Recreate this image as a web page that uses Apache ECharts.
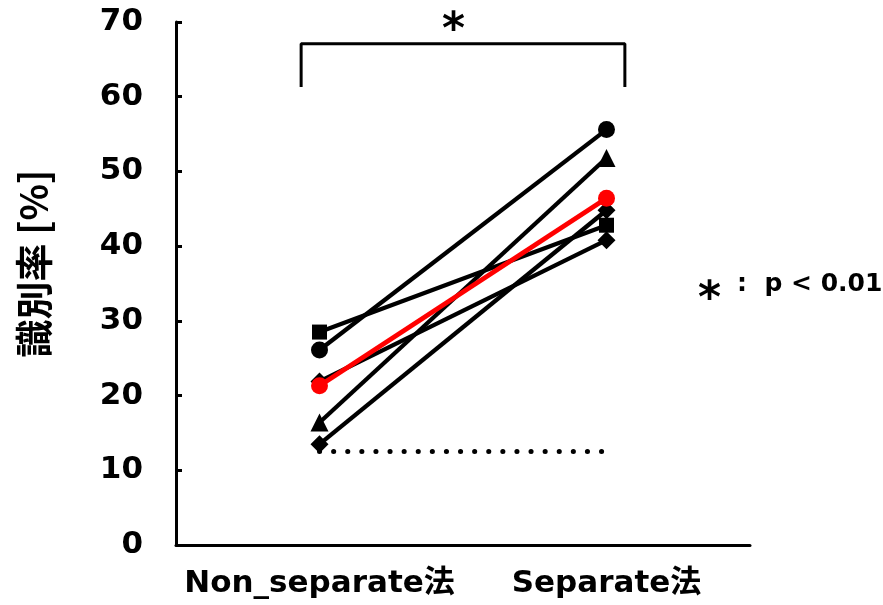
<!DOCTYPE html>
<html><head><meta charset="utf-8">
<script src="https://cdn.jsdelivr.net/npm/echarts@6/dist/echarts.min.js"></script>
<style>html,body{margin:0;padding:0;background:#fff}#c{width:883px;height:605px}</style>
</head><body><div id="c"></div>
<script>
const categories = ['Non_separate法', 'Separate法'];
const yTicks = [0, 10, 20, 30, 40, 50, 60, 70];
const circleVals = [26.1, 55.6];
const squareVals = [28.5, 42.8];
const triangleVals = [16.4, 51.8];
const diamondAVals = [21.9, 40.8];
const diamondBVals = [13.5, 44.8];
const meanVals = [21.3, 46.4];
const chanceVals = [12.5, 12.5];
const bracketX = [0.436, 1.564];
const bracketY = [61.3, 67.1];

const FONT = '"DejaVu Sans", "Noto Sans CJK JP", sans-serif';
const chart = echarts.init(document.getElementById('c'));

function subj(vals, symbol, size) {
  return {
    type: 'line', data: vals, symbol: symbol, symbolSize: size,
    lineStyle: { color: '#000', width: 4.3 },
    itemStyle: { color: '#000' }, z: 3, animation: false
  };
}

chart.setOption({
  animation: false,
  grid: { left: 176, right: 133, top: 22, bottom: 60, containLabel: false, outerBoundsMode: 'none' },
  xAxis: [{
    type: 'category', data: categories, boundaryGap: true,
    axisLine: { lineStyle: { color: '#000', width: 3 } },
    axisTick: { show: false },
    axisLabel: { color: '#000', fontSize: 31, fontWeight: 'bold', fontFamily: FONT, margin: 23, interval: 0 }
  }, {
    type: 'value', min: 0, max: 2, show: false
  }],
  yAxis: {
    type: 'value', min: yTicks[0], max: yTicks[yTicks.length - 1], interval: 10,
    name: '識別率 [%]', nameLocation: 'middle', nameRotate: 90, nameGap: 123,
    nameTextStyle: { color: '#000', fontSize: 38, fontWeight: 'bold', fontFamily: '"Noto Sans CJK JP", sans-serif', padding: [0, 0, 0, 40] },
    axisLine: { show: true, lineStyle: { color: '#000', width: 3 } },
    axisTick: { show: true, inside: true, length: 6, lineStyle: { color: '#000', width: 3 } },
    splitLine: { show: false },
    axisLabel: { color: '#000', fontSize: 31, fontWeight: 'bold', fontFamily: FONT, margin: 33 }
  },
  series: [
    {
      type: 'line', data: chanceVals, symbol: 'none',
      lineStyle: { color: '#000', width: 5, type: [0.1, 14], cap: 'round' }, z: 2
    },
    subj(squareVals, 'rect', 15),
    subj(circleVals, 'circle', 17),
    subj(triangleVals, 'triangle', 18),
    subj(diamondAVals, 'diamond', 18),
    subj(diamondBVals, 'diamond', 18),
    {
      type: 'line', data: meanVals, symbol: 'circle', symbolSize: 17,
      lineStyle: { color: '#ff0000', width: 4.8 }, itemStyle: { color: '#ff0000' }, z: 5
    },
    {
      type: 'line', xAxisIndex: 1, symbol: 'none',
      data: [[bracketX[0], bracketY[0]], [bracketX[0], bracketY[1]], [bracketX[1], bracketY[1]], [bracketX[1], bracketY[0]]],
      lineStyle: { color: '#000', width: 3 }, z: 2
    }
  ],
  graphic: [
    { type: 'text', left: 442, top: 10, style: { text: '*', fontSize: 44, fontWeight: 'bold', fontFamily: FONT, fill: '#000' } },
    { type: 'text', left: 698, top: 279, style: { text: '*', fontSize: 44, fontWeight: 'bold', fontFamily: FONT, fill: '#000' } },
    { type: 'text', left: 737, top: 272, style: { text: ':  p < 0.01', fontSize: 25, fontWeight: 'bold', fontFamily: FONT, fill: '#000' } }
  ]
});
</script></body></html>
